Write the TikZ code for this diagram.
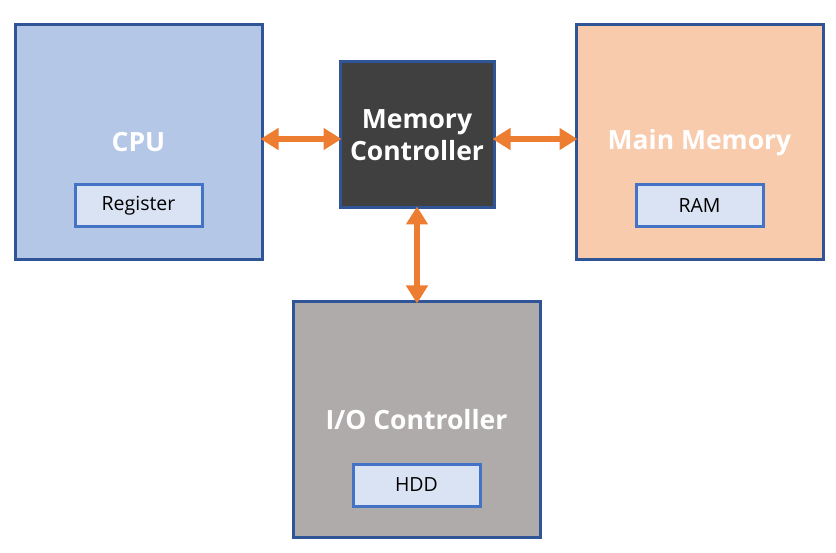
\documentclass[tikz,border=0pt]{standalone}
\usepackage{fontspec}
\setmainfont{Open Sans}
\usepackage{tikz}
\usetikzlibrary{arrows.meta,positioning}

\definecolor{cpublue}{HTML}{B4C7E7}
\definecolor{edgeblue}{HTML}{2F5597}
\definecolor{innerblue}{HTML}{DAE3F3}
\definecolor{inneredge}{HTML}{4472C4}
\definecolor{darkgrey}{HTML}{404040}
\definecolor{memorange}{HTML}{F8CBAD}
\definecolor{iogrey}{HTML}{AFABAB}
\definecolor{busorange}{HTML}{ED7D31}

\tikzset{
	unit/.style={draw=edgeblue,line width=3pt,minimum width=247pt,minimum height=235pt,
		font=\fontsize{26.5}{32}\selectfont\bfseries,text=white,align=center,inner sep=0pt},
	part/.style={draw=inneredge,fill=innerblue,line width=3pt,minimum width=127pt,minimum height=42pt,
		font=\fontsize{19.5}{22}\selectfont,text=black,inner sep=0pt},
	bus/.style={busorange,line width=6pt,shorten <=-3pt,shorten >=-3pt,
		{Triangle[width=21pt,length=18pt]}-{Triangle[width=21pt,length=18pt]}}
}

\begin{document}
\begin{tikzpicture}[x=1pt,y=-1pt]
\useasboundingbox (0,0) rectangle (836,553);

\node[unit,fill=cpublue] (cpu) at (138.5,142.5) {CPU};
\node[part,above=33pt of cpu.south] (reg) {Register};

\node[unit,fill=darkgrey,minimum width=154pt,minimum height=146pt] (mc) at (417,135) {Memory\\Controller};

\node[unit,fill=memorange] (mem) at (699.5,142.5) {Main Memory};
\node[part,above=33pt of mem.south] (ram) {RAM};

\node[unit,fill=iogrey] (io) at (416.5,419.5) {I/O Controller};
\node[part,above=31pt of io.south] (hdd) {HDD};

% buses
\draw[bus] ([yshift=-4pt]mc.west -| cpu.east) -- ([yshift=-4pt]mc.west);
\draw[bus] ([yshift=-4pt]mc.east) -- ([yshift=-4pt]mc.east -| mem.west);
\draw[bus] (mc.south) -- (mc.south |- io.north);
\end{tikzpicture}
\end{document}
